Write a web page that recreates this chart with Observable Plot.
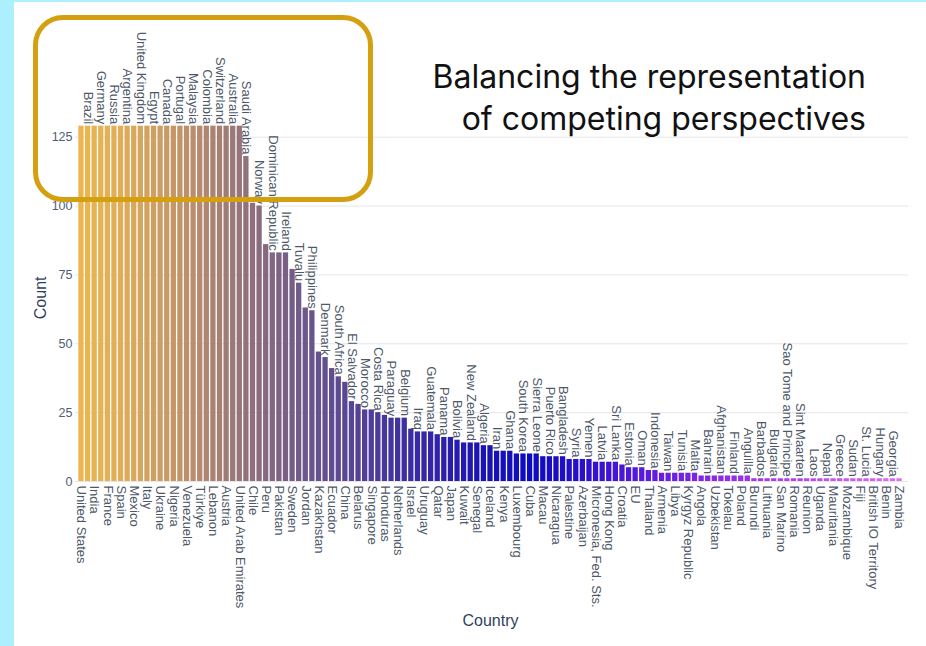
<!DOCTYPE html>
<html><head><meta charset="utf-8">
<script src="https://cdn.jsdelivr.net/npm/d3@7"></script>
<script src="https://cdn.jsdelivr.net/npm/@observablehq/plot@0.6"></script>
<style>
html,body{margin:0;padding:0;background:#fff;}
#wrap{position:relative;width:926px;height:646px;overflow:hidden;background:#fff;}
.strip-left{position:absolute;left:0;top:0;width:14px;height:646px;background:#acefff;}
.strip-top{position:absolute;left:0;top:0;width:926px;height:2px;background:#acefff;}
#chart{position:absolute;left:0;top:0;}
.box{position:absolute;left:33px;top:15px;width:340px;height:187px;box-sizing:border-box;border:5.5px solid #d4a010;border-radius:30px;}
.headline{position:absolute;right:60px;top:56px;text-align:right;font-family:Inter,sans-serif;font-size:32px;line-height:42px;color:#111;white-space:nowrap;}
</style></head>
<body><div id="wrap">
<div class="strip-left"></div><div class="strip-top"></div>
<div id="chart"></div>
<div class="box"></div>
<div class="headline">Balancing the representation<br>of competing perspectives</div>
</div>
<script>
const countries = ["United States","Brazil","India","Germany","France","Russia","Spain","Argentina","Mexico","United Kingdom","Italy","Egypt","Ukraine","Canada","Nigeria","Portugal","Venezuela","Malaysia","Türkiye","Colombia","Lebanon","Switzerland","Austria","Australia","United Arab Emirates","Saudi Arabia","Chile","Norway","Peru","Dominican Republic","Pakistan","Ireland","Sweden","Tuvalu","Jordan","Philippines","Kazakhstan","Denmark","Ecuador","South Africa","China","El Salvador","Belarus","Morocco","Singapore","Costa Rica","Honduras","Paraguay","Netherlands","Belgium","Israel","Iraq","Uruguay","Guatemala","Qatar","Panama","Japan","Bolivia","Kuwait","New Zealand","Senegal","Algeria","Iceland","Iran","Kenya","Ghana","Luxembourg","South Korea","Cuba","Sierra Leone","Macau","Puerto Rico","Nicaragua","Bangladesh","Palestine","Syria","Azerbaijan","Yemen","Micronesia, Fed. Sts.","Latvia","Hong Kong","Sri Lanka","Croatia","Estonia","EU","Oman","Thailand","Indonesia","Armenia","Taiwan","Libya","Tunisia","Kyrgyz Republic","Malta","Angola","Bahrain","Uzbekistan","Afghanistan","Tokelau","Finland","Poland","Anguilla","Burundi","Barbados","Lithuania","Bulgaria","San Marino","Sao Tome and Principe","Romania","Sint Maarten","Reunion","Laos","Uganda","Nepal","Mauritania","Greece","Mozambique","Sudan","Fiji","St. Lucia","British IO Territory","Hungary","Benin","Georgia","Zambia"];
const counts = [129,129,129,129,129,129,129,129,129,129,129,129,129,129,129,129,129,129,129,129,129,129,129,129,129,
118,101,100,86,83,83,83,77,72,63,62,47,45,41,38,36,29,28,26,26,25,24,23,23,23,
19,18,18,18,17,16,16,15,14,14,14,13,13,11,11,11,10,10,10,10,9,9,9,9,8,8,8,8,7,7,7,7,6,5,5,5,4,4,
3,3,3,3,3,3,2,2,2,2,2,2,2,2,
1,1,1,1,1,1,1,1,1,1,1,1,1,1,1,1,1,1,1,1,1,1,1];
const yTicks = [0,25,50,75,100,125];

const colorStops = [0,6,12,18,24,30,36,44,52,60,68,76,82,90,100,112,124];
const colorRange = ["#ebb64f","#e0ad58","#cc9d64","#b58a70","#977479","#7e6385","#66518f","#4e3d99","#3527a6","#1d15b2","#0d0bc0","#2a10cc","#4a16d8","#6e20e2","#9a30ea","#c44cf0","#e06cf4"];

const data = countries.map((c, i) => ({country: c, count: counts[i], i}));
const below = data.filter(d => d.i % 2 === 0);
const above = data.filter(d => d.i % 2 === 1);
const txt = "#4d5868";

const chart = Plot.plot({
  width: 926, height: 646,
  marginLeft: 77, marginRight: 23, marginTop: 106.4, marginBottom: 165,
  style: {fontFamily: "'Liberation Sans', Arial, sans-serif", fontSize: "13px", background: "transparent", overflow: "visible"},
  x: {domain: countries, padding: 0.2, label: null},
  y: {domain: [0, 136], label: null},
  color: {type: "linear", domain: colorStops, range: colorRange, interpolate: "rgb"},
  marks: [
    Plot.gridY(yTicks, {stroke: "#e6e6e6", strokeOpacity: 1, insetLeft: -2, insetRight: -5}),
    Plot.barY(data, {x: "country", y: "count", fill: "i"}),
    Plot.axisY(yTicks, {tickSize: 0, tickPadding: 5, fontSize: 12.5, color: "#4f5e75", label: null}),
    Plot.axisX(below.map(d => d.country), {tickSize: 0, tickPadding: 4, tickRotate: 90, fontSize: 13, color: txt, label: null}),
    Plot.text(above, {x: "country", y: "count", text: "country", rotate: 90, textAnchor: "end", lineAnchor: "middle", dy: -2, fontSize: 13, fill: txt}),
    Plot.text(["Count"], {frameAnchor: "left", dx: -37, dy: 25, rotate: -90, fontSize: 16, fill: "#2f3f5a"}),
    Plot.text(["Country"], {frameAnchor: "bottom", dy: 144, fontSize: 16, fill: "#2f3f5a"})
  ]
});
document.getElementById("chart").appendChild(chart);
</script>
</body></html>
